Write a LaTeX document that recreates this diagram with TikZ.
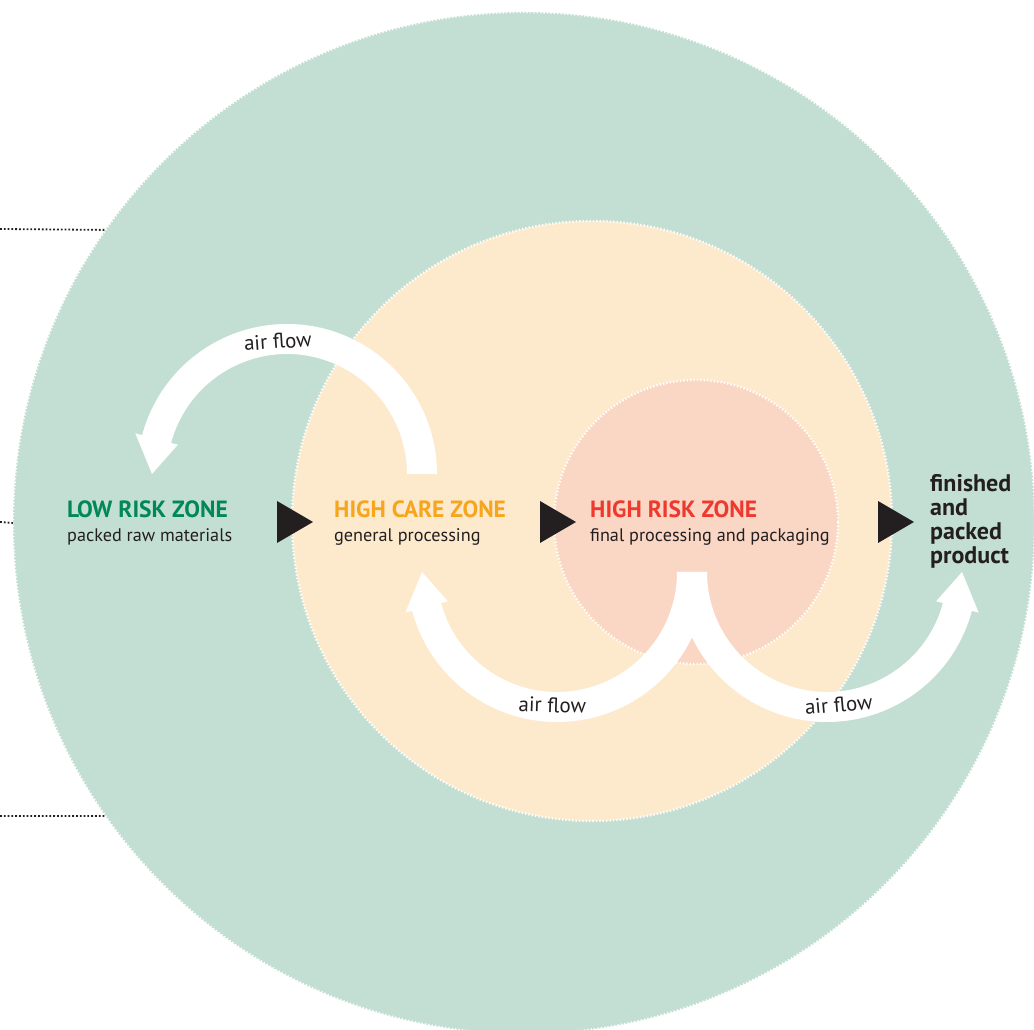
\documentclass[tikz,border=0pt]{standalone}
\usepackage{fontspec}
\setmainfont{PT Sans}
\usetikzlibrary{calc}
\definecolor{lowfill}{RGB}{195,223,212}
\definecolor{carefill}{RGB}{253,234,205}
\definecolor{riskfill}{RGB}{250,214,196}
\definecolor{lowtext}{RGB}{0,135,90}
\definecolor{caretext}{RGB}{247,165,29}
\definecolor{risktext}{RGB}{238,58,46}
\definecolor{ink}{RGB}{35,31,32}
\begin{document}
\begin{tikzpicture}
[x=1pt,y=1pt,
zone circle/.style={circle,inner sep=0pt,outer sep=0pt,draw=white,line width=2.4pt,dash pattern=on 1.3pt off 2.1pt},
zone title/.style={anchor=base west,inner sep=0pt,font=\bfseries\fontsize{23.5}{24}\selectfont},
zone note/.style={anchor=base west,inner sep=0pt,text=ink,font=\fontsize{18.2}{20}\selectfont},
product text/.style={anchor=west,inner sep=0pt,align=left,text=ink,font=\bfseries\fontsize{24}{24}\selectfont},
guide line/.style={draw=ink,line width=1.8pt,dash pattern=on 1.8pt off 2pt},
step mark/.style={fill=ink},
air arrow/.style={fill=white},
flow label/.style={inner sep=0pt,text=ink,font=\fontsize{21}{22}\selectfont}]
\useasboundingbox (0,0) rectangle (1034,1030);
\node[zone circle,fill=lowfill,minimum size=1022pt] (low zone) at (524,507) {};
\node[zone circle,fill=carefill,minimum size=600pt] (care zone) at (592,509) {};
\node[zone circle,fill=riskfill,minimum size=284pt] (risk zone) at (696,508) {};

\coordinate (top guide) at (0,801);
\coordinate (mid guide) at (0,508);
\coordinate (low guide) at (0,214);
\draw[guide line] (top guide) -- (low zone.145);
\draw[guide line] (mid guide) -- (low zone.180);
\draw[guide line] (low guide) -- (low zone.215);

\foreach \x in {277,540,878}
\fill[step mark] (\x,529) -- (\x+36,508) -- (\x,487) -- cycle;

\foreach \cx/\cy/\a/\s/\la/\lr [count=\i] in {287/556/0/1/94/4, 557/458/0/-1/268/-2, 827/458/180/1/275/5}
{
\fill[air arrow] ($(\cx,\cy)+(\a:150)$) arc[start angle=\a,delta angle=165*\s,radius=150pt]
 -- ($(\cx,\cy)+(\a+165*\s:157)$) -- ($(\cx,\cy)+(\a+180*\s:135)$) -- ($(\cx,\cy)+(\a+165*\s:113)$)
 -- ($(\cx,\cy)+(\a+165*\s:120)$) arc[start angle=\a+165*\s,delta angle=-165*\s,radius=120pt] -- cycle;
\node[flow label,rotate=\lr] (flow \i) at ($(\cx,\cy)+(\la:133)$) {air flow};
}

\node[zone title,text=lowtext] (low title) at (67,512) {LOW RISK ZONE};
\node[zone note] (low note) at ([yshift=-24pt]low title.base west) {packed raw materials};
\node[zone title,text=caretext] (care title) at (334,512) {HIGH CARE ZONE};
\node[zone note] (care note) at ([yshift=-24pt]care title.base west) {general processing};
\node[zone title,text=risktext] (risk title) at (590,512) {HIGH RISK ZONE};
\node[zone note] (risk note) at ([yshift=-24pt]risk title.base west) {final processing and packaging};
\node[product text] (product) at (930,509) {finished\\and\\packed\\product};
\end{tikzpicture}
\end{document}
